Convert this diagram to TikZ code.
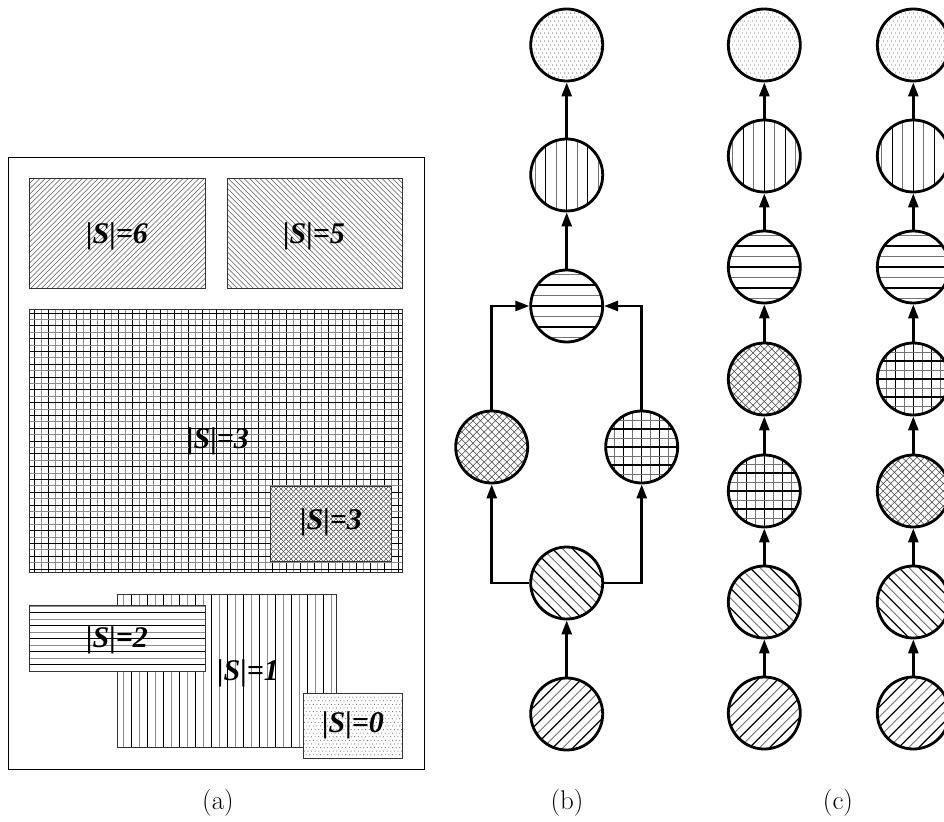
\documentclass[tikz,border=0pt]{standalone}
\usepackage{fontspec}
\newfontfamily\tnr{Liberation Serif}
\usetikzlibrary{arrows.meta}
% pattern macros: spacing, extent, styleA, styleB
\newcommand{\pvlines}[4]{%
 \pgfmathtruncatemacro{\nn}{#2/#1}%
 \foreach \k in {-\nn,...,\nn}{%
   \ifodd\k\relax \draw[#4] (\k*#1,-#2) -- (\k*#1,#2);%
   \else \draw[#3] (\k*#1,-#2) -- (\k*#1,#2);\fi}}
\newcommand{\phlines}[4]{%
 \pgfmathtruncatemacro{\nn}{#2/#1}%
 \foreach \k in {-\nn,...,\nn}{%
   \ifodd\k\relax \draw[#4] (-#2,\k*#1) -- (#2,\k*#1);%
   \else \draw[#3] (-#2,\k*#1) -- (#2,\k*#1);\fi}}
\newcommand{\pdiagA}[4]{%
 \pgfmathtruncatemacro{\nn}{2*#2/#1}%
 \foreach \k in {-\nn,...,\nn}{%
   \ifodd\k\relax \draw[#4] (\k*#1-#2,#2) -- (\k*#1+#2,-#2);%
   \else \draw[#3] (\k*#1-#2,#2) -- (\k*#1+#2,-#2);\fi}}
\newcommand{\pdiagB}[4]{%
 \pgfmathtruncatemacro{\nn}{2*#2/#1}%
 \foreach \k in {-\nn,...,\nn}{%
   \ifodd\k\relax \draw[#4] (\k*#1-#2,-#2) -- (\k*#1+#2,#2);%
   \else \draw[#3] (\k*#1-#2,-#2) -- (\k*#1+#2,#2);\fi}}
\newcommand{\pdots}[3]{% spacing, extent, style
 \pgfmathtruncatemacro{\nn}{#2/#1}%
 \foreach \j in {-\nn,...,\nn}{%
   \foreach \i in {-\nn,...,\nn}{%
     \ifodd\j\relax \fill[#3] (\i*#1+0.5*#1,\j*#1) circle (0.55);%
     \else \fill[#3] (\i*#1,\j*#1) circle (0.55);\fi}}}
\begin{document}
\begin{tikzpicture}[x=1pt,y=-1pt,
 lbl/.style={font=\tnr\bfseries\itshape\fontsize{30}{30}\selectfont, inner sep=0},
 capt/.style={font=\fontsize{27}{27}\selectfont, inner sep=0},
 reg/.style={draw=black!80, line width=0.9pt, fill=white, inner sep=0, anchor=north west},
 st/.style={circle, draw, line width=2.8pt, minimum size=72pt, inner sep=0, fill=white},
 arr/.style={line width=2.6pt, -{Triangle[length=14pt,width=10pt]}},
 pp/.style={path picture={\begin{scope}[shift={(path picture bounding box.center)}]#1\end{scope}}},
 dk/.style={line width=0.9pt, black},
 lt/.style={line width=0.8pt, black!45},
 cdk/.style={line width=1.3pt, black},
 clt/.style={line width=0.9pt, black!55},
 dg/.style={line width=0.55pt, black!65},
 cdg/.style={line width=0.6pt, black!75},
 dotst/.style={black!60},
 vpat/.style={pp={\pvlines{10.5}{40}{cdk}{clt}}},
 hpat/.style={pp={\phlines{10.5}{40}{cdk}{clt}}},
 gpat/.style={pp={\pvlines{9}{40}{cdk}{clt}\phlines{9}{40}{cdk}{clt}}},
 xpat/.style={pp={\pdiagA{7.5}{40}{cdg}{cdg}\pdiagB{7.5}{40}{cdg}{cdg}}},
 apat/.style={pp={\pdiagA{10}{40}{cdk}{clt}}},
 bpat/.style={pp={\pdiagB{10}{40}{cdk}{clt}}},
 dpat/.style={pp={\pdots{4}{40}{dotst}}}
]
\useasboundingbox (0,0) rectangle (944,821);
\clip (0,0) rectangle (944,821);

% ---------- panel (a) ----------
\node[draw, line width=1.3pt, minimum width=416pt, minimum height=612pt, anchor=north west, inner sep=0] (frame) at (8,157) {};
\node[reg, minimum width=176pt, minimum height=110pt, pp={\pdiagA{5.3}{100}{dg}{dg}}] (r6) at (29,178) {};
\node[reg, minimum width=175pt, minimum height=110pt, pp={\pdiagB{5.3}{100}{dg}{dg}}] (r5) at (227,178) {};
\node[reg, minimum width=373pt, minimum height=263pt, pp={\pvlines{7}{200}{dk}{lt}\phlines{6.4}{200}{dk}{lt}}] (r3) at (29,309) {};
\node[reg, minimum width=121pt, minimum height=75pt, pp={\pdiagA{5}{70}{dg}{dg}\pdiagB{5}{70}{dg}{dg}}] (r3s) at (270,486) {};
\node[reg, minimum width=219pt, minimum height=153pt, pp={\pvlines{8}{120}{dk}{lt}}] (r1) at (117,594) {};
\node[reg, minimum width=176pt, minimum height=66pt, pp={\phlines{6.5}{100}{dk}{lt}}] (r2) at (29,605) {};
\node[reg, minimum width=99pt, minimum height=65pt, pp={\pdots{3.6}{60}{dotst}}] (r0) at (303,693) {};

\node[lbl] (l6) at (117,236) {|S|=6};
\node[lbl] (l5) at (314,236) {|S|=5};
\node[lbl] (l3) at (218,441) {|S|=3};
\node[lbl] (l3s) at (331,522) {|S|=3};
\node[lbl] (l2) at (117,640) {|S|=2};
\node[lbl] (l1) at (248,673) {|S|=1};
\node[lbl] (l0) at (353,725) {|S|=0};

\node[capt] (ca) at (218,803) {(a)};

% ---------- panel (b) ----------
\node[st, dpat] (b1) at (566.7,45) {};
\node[st, vpat] (b2) at (566.7,175) {};
\node[st, hpat] (b3) at (566.7,306) {};
\node[st, xpat] (b4) at (491.7,447) {};
\node[st, gpat] (b5) at (641.7,447) {};
\node[st, bpat] (b6) at (566.7,583) {};
\node[st, apat] (b7) at (566.7,714) {};
\draw[arr] (b7) -- (b6);
\draw[arr] (b6.west) -| (b4.south);
\draw[arr] (b6.east) -| (b5.south);
\draw[arr] (b4.north) |- (b3.west);
\draw[arr] (b5.north) |- (b3.east);
\draw[arr] (b3) -- (b2);
\draw[arr] (b2) -- (b1);
\node[capt] (cb) at (567,803) {(b)};

% ---------- panel (c) ----------
\node[st, dpat] (c11) at (764.3,45) {};
\node[st, vpat] (c12) at (764.3,156) {};
\node[st, hpat] (c13) at (764.3,267) {};
\node[st, xpat] (c14) at (764.3,379) {};
\node[st, gpat] (c15) at (764.3,491) {};
\node[st, bpat] (c16) at (764.3,602) {};
\node[st, apat] (c17) at (764.3,713) {};
\node[st, dpat] (c21) at (913.3,45) {};
\node[st, vpat] (c22) at (913.3,156) {};
\node[st, hpat] (c23) at (913.3,267) {};
\node[st, gpat] (c24) at (913.3,379) {};
\node[st, xpat] (c25) at (913.3,491) {};
\node[st, bpat] (c26) at (913.3,602) {};
\node[st, apat] (c27) at (913.3,713) {};
\draw[arr] (c17) -- (c16);
\draw[arr] (c16) -- (c15);
\draw[arr] (c15) -- (c14);
\draw[arr] (c14) -- (c13);
\draw[arr] (c13) -- (c12);
\draw[arr] (c12) -- (c11);
\draw[arr] (c27) -- (c26);
\draw[arr] (c26) -- (c25);
\draw[arr] (c25) -- (c24);
\draw[arr] (c24) -- (c23);
\draw[arr] (c23) -- (c22);
\draw[arr] (c22) -- (c21);
\node[capt] (cc) at (838,803) {(c)};
\end{tikzpicture}
\end{document}
